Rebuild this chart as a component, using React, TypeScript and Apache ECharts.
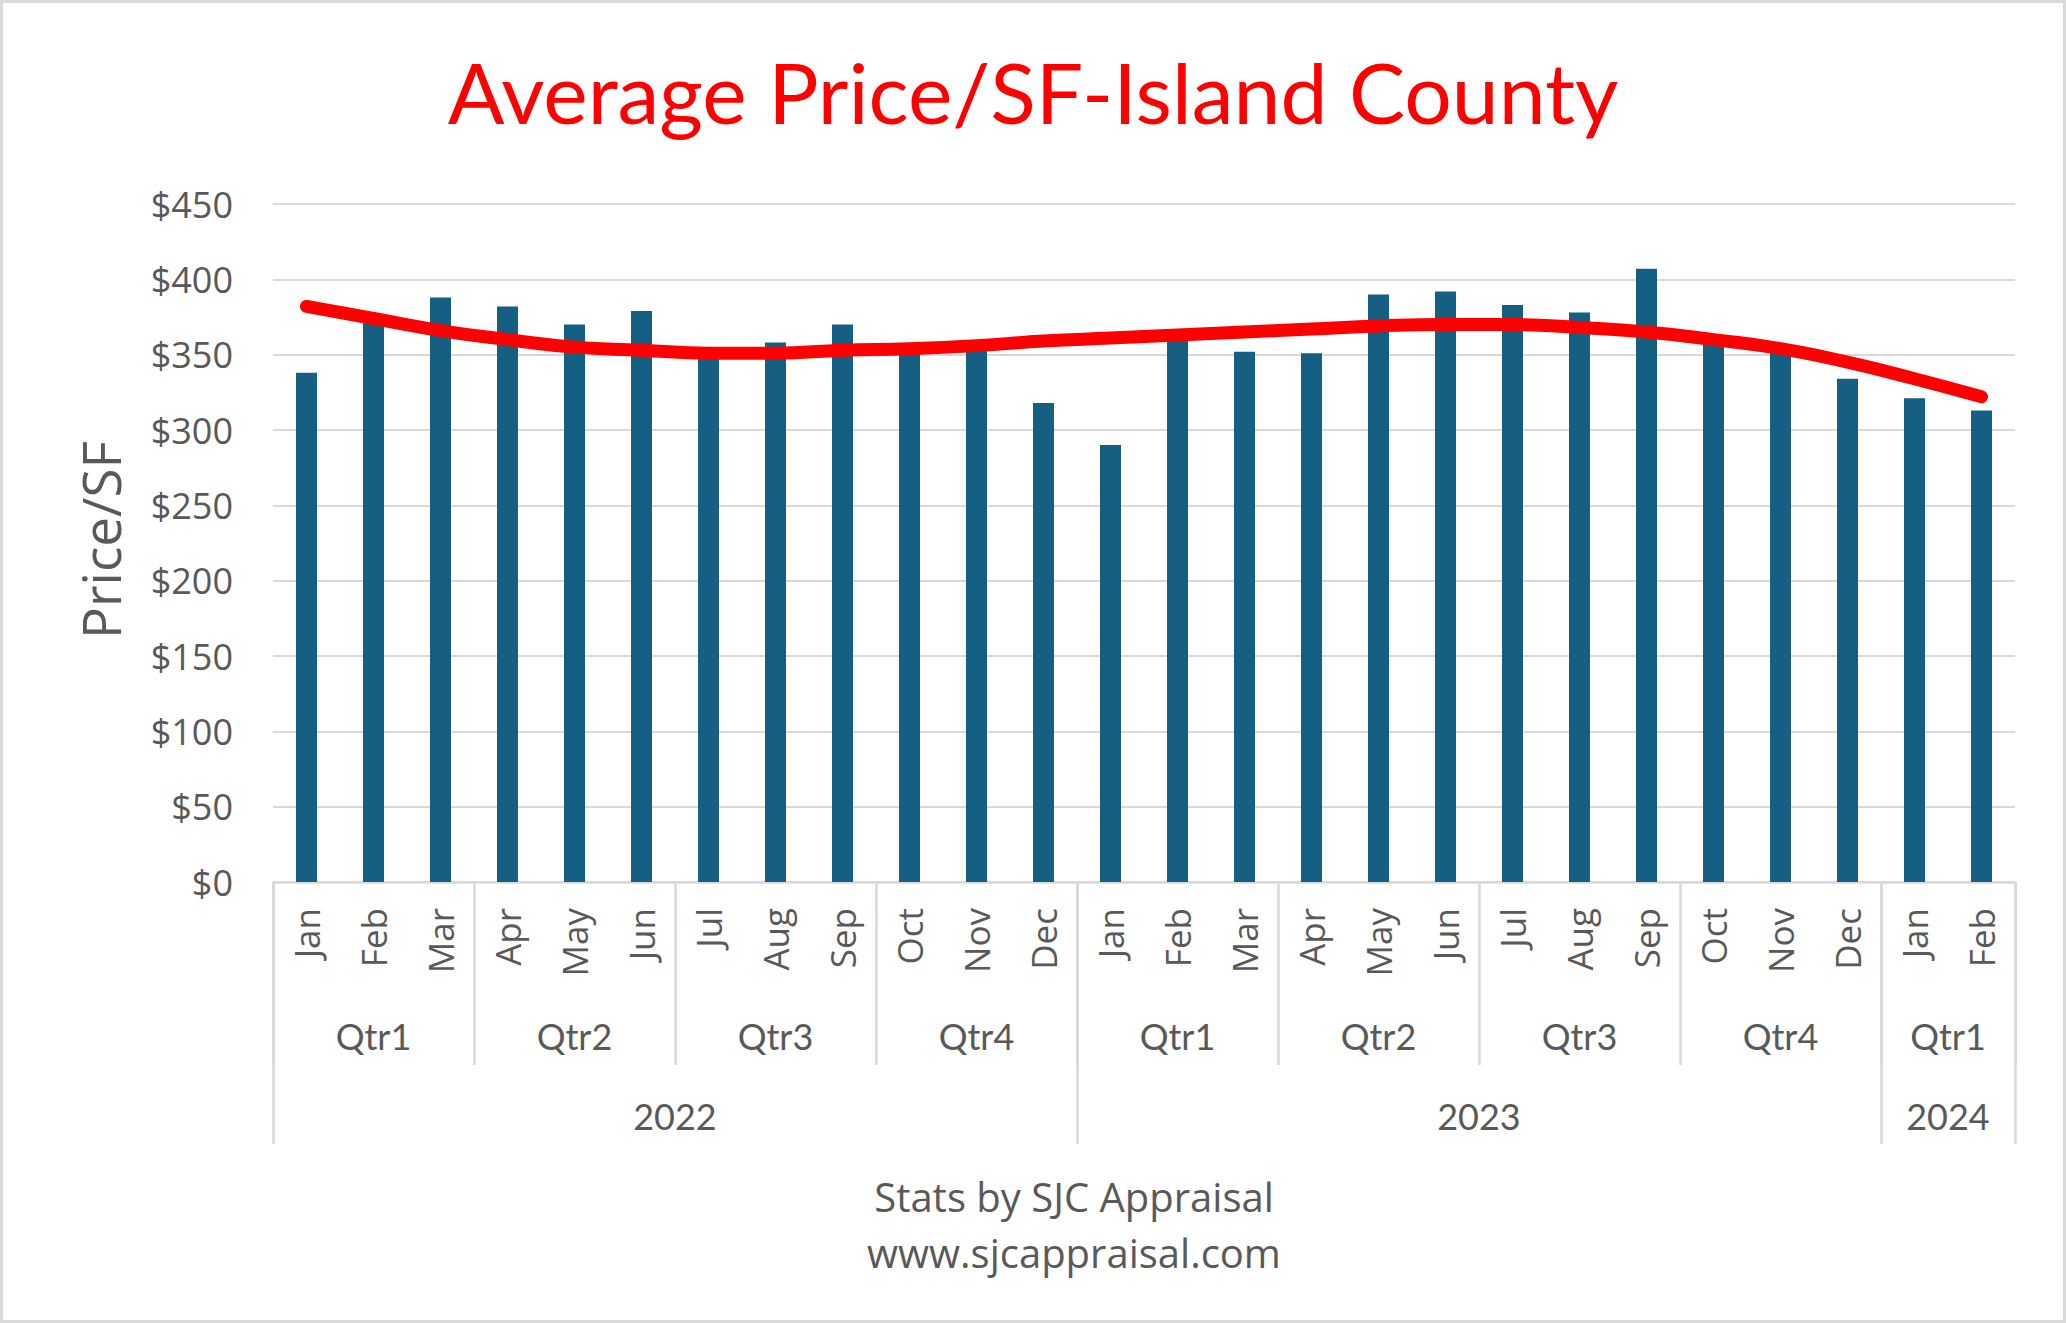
import React, { useEffect, useRef } from "react";
import * as echarts from "echarts";

const months = [
  "Jan", "Feb", "Mar", "Apr", "May", "Jun", "Jul", "Aug", "Sep", "Oct", "Nov", "Dec",
  "Jan", "Feb", "Mar", "Apr", "May", "Jun", "Jul", "Aug", "Sep", "Oct", "Nov", "Dec",
  "Jan", "Feb",
];
const prices = [
  338, 374, 388, 382, 370, 379, 352, 358, 370, 355, 357, 318,
  290, 363, 352, 351, 390, 392, 383, 378, 407, 359, 352, 334,
  321, 313,
];
const trend = [
  382, 374, 366, 360, 355, 353, 351, 351, 353, 354, 356, 359,
  361, 363, 365, 367, 369, 370, 370, 368, 365, 360, 354, 345,
  334, 322,
];
const quarterNames = ["Qtr1", "Qtr2", "Qtr3", "Qtr4", "Qtr1", "Qtr2", "Qtr3", "Qtr4", "Qtr1"];
const quarterSizes = [3, 3, 3, 3, 3, 3, 3, 3, 2];
const yearNames = ["2022", "2023", "2024"];
const yearSizes = [12, 12, 2];
const yMin = 0;
const yMax = 450;
const yStep = 50;

const titleText = "Average Price/SF-Island County";
const yName = "Price/SF";
const footer1 = "Stats by SJC Appraisal";
const footer2 = "www.sjcappraisal.com";

function buildGroups(names: string[], sizes: number[]) {
  const bounds: number[] = [0];
  const centers: number[] = [];
  const lookup: Record<string, string> = {};
  let start = 0;
  sizes.forEach((s, i) => {
    const c = start + s / 2;
    centers.push(c);
    lookup[c.toFixed(2)] = names[i];
    start += s;
    bounds.push(start);
  });
  return { bounds, centers, lookup };
}

const GRAY = "#595959";
const LINE = "#d9d9d9";

export default function App() {
  const ref = useRef<HTMLDivElement>(null);
  useEffect(() => {
    if (!ref.current) return;
    const chart = echarts.init(ref.current, null, { renderer: "svg" });
    const q = buildGroups(quarterNames, quarterSizes);
    const y = buildGroups(yearNames, yearSizes);
    const total = months.length;

    const groupAxis = (g: ReturnType<typeof buildGroups>, tickLen: number, margin: number) => ({
      type: "value",
      gridIndex: 0,
      position: "bottom",
      min: 0,
      max: total,
      axisLine: { show: false, onZero: false },
      splitLine: { show: false },
      axisTick: {
        show: true,
        customValues: g.bounds,
        length: tickLen,
        lineStyle: { color: LINE, width: 2.5 },
      },
      axisLabel: {
        show: true,
        customValues: g.centers,
        margin,
        formatter: (v: number) => g.lookup[Number(v).toFixed(2)] ?? "",
        fontFamily: "Lato",
        fontSize: 36,
        color: GRAY,
      },
    });

    chart.setOption({
      animation: false,
      backgroundColor: "#ffffff",
      title: {
        text: titleText,
        left: "center",
        top: 44,
        textStyle: { color: "#ff0000", fontFamily: "Lato", fontSize: 84, fontWeight: "normal" },
      },
      grid: { left: 273, right: 51, top: 204, bottom: 441, containLabel: false },
      xAxis: [
        {
          type: "category",
          data: months,
          position: "bottom",
          boundaryGap: true,
          axisLine: { show: true, onZero: false, lineStyle: { color: LINE, width: 2.5 } },
          axisTick: { show: false },
          axisLabel: {
            rotate: 90,
            interval: 0,
            margin: 26,
            fontFamily: "Open Sans",
            fontSize: 35,
            color: GRAY,
          },
        },
        groupAxis(q, 183, 136),
        groupAxis(y, 262, 216),
      ],
      yAxis: {
        type: "value",
        min: yMin,
        max: yMax,
        interval: yStep,
        axisLine: { show: false },
        axisTick: { show: false },
        splitLine: { show: true, lineStyle: { color: LINE, width: 2 } },
        axisLabel: {
          margin: 40,
          fontFamily: "Open Sans",
          fontSize: 36,
          color: GRAY,
          formatter: (v: number) => "$" + v,
        },
      },
      graphic: [
        {
          type: "rect",
          silent: true,
          shape: { x: 1.5, y: 1.5, width: 2063, height: 1320 },
          style: { fill: "none", stroke: LINE, lineWidth: 3 },
        },
        {
          type: "text",
          x: 100,
          y: 540,
          rotation: Math.PI / 2,
          style: {
            text: yName,
            fontFamily: "Open Sans",
            fontSize: 53,
            fill: GRAY,
            align: "center",
            verticalAlign: "middle",
          },
        },
        {
          type: "text",
          x: 1074,
          y: 1196,
          style: {
            text: footer1,
            fontFamily: "Open Sans",
            fontSize: 40,
            fill: GRAY,
            align: "center",
            verticalAlign: "middle",
          },
        },
        {
          type: "text",
          x: 1074,
          y: 1252,
          style: {
            text: footer2,
            fontFamily: "Open Sans",
            fontSize: 40,
            fill: GRAY,
            align: "center",
            verticalAlign: "middle",
          },
        },
      ],
      series: [
        {
          type: "bar",
          data: prices,
          barWidth: 21,
          itemStyle: { color: "#156082" },
          xAxisIndex: 0,
          yAxisIndex: 0,
        },
        {
          type: "line",
          data: trend,
          smooth: 0.5,
          showSymbol: false,
          symbol: "none",
          lineStyle: { color: "#ff0000", width: 13, cap: "round" },
          xAxisIndex: 0,
          yAxisIndex: 0,
          z: 5,
        },
      ],
    });
    return () => chart.dispose();
  }, []);
  return (
    <div
      ref={ref}
      style={{ position: "fixed", left: 0, top: 0, width: 2066, height: 1323, background: "#fff" }}
    />
  );
}
